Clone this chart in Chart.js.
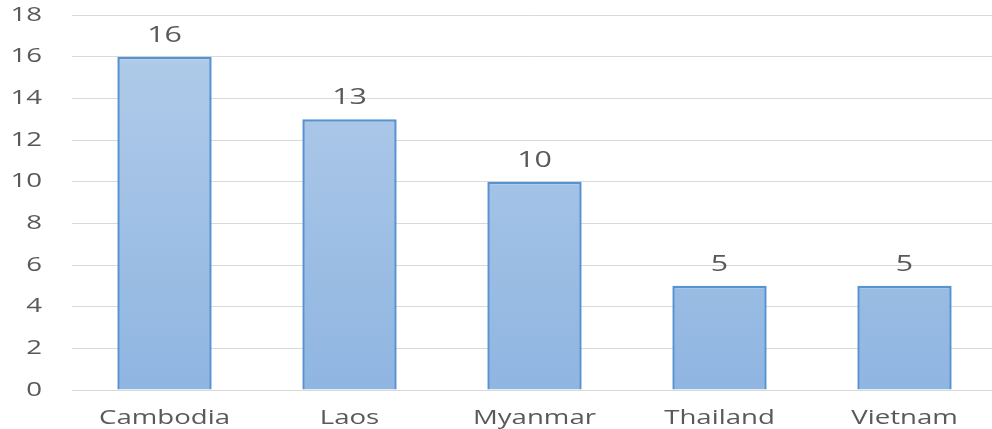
<!DOCTYPE html>
<html>
<head>
<meta charset="utf-8">
<script src="https://cdn.jsdelivr.net/npm/chart.js@4/dist/chart.umd.min.js"></script>
<style>
html,body{margin:0;padding:0;background:#fff;overflow:hidden;}
#wrap{width:997px;height:429px;}
</style>
</head>
<body>
<div id="wrap"><canvas id="c" width="997" height="429"></canvas></div>
<script>
const categories = ["Cambodia", "Laos", "Myanmar", "Thailand", "Vietnam"];
const values = [16, 13, 10, 5, 5];
const yTicks = [0, 2, 4, 6, 8, 10, 12, 14, 16, 18];

const TEXT_STRETCH = 1.38;

const stretchPlugin = {
  id: 'stretchText',
  beforeInit(chart) {
    const c = chart.ctx;
    const orig = c.fillText.bind(c);
    c.fillText = function (text, x, y, maxWidth) {
      c.save();
      c.translate(x, y);
      c.scale(TEXT_STRETCH, 1);
      orig(text, 0, 0);
      c.restore();
    };
  }
};

const labelPlugin = {
  id: 'valueLabels',
  afterDatasetsDraw(chart) {
    const ctx = chart.ctx;
    const meta = chart.getDatasetMeta(0);
    ctx.save();
    ctx.font = '22px "Open Sans"';
    ctx.fillStyle = '#595959';
    ctx.textAlign = 'center';
    ctx.textBaseline = 'alphabetic';
    meta.data.forEach((bar, i) => {
      ctx.fillText(String(chart.data.datasets[0].data[i]), bar.x, bar.y - 15);
    });
    ctx.restore();
  }
};

const ctx = document.getElementById('c').getContext('2d');
new Chart(ctx, {
  type: 'bar',
  data: {
    labels: categories,
    datasets: [{
      data: values,
      backgroundColor: (context) => {
        const chart = context.chart;
        const area = chart.chartArea;
        if (!area) return '#a3c1e6';
        const g = chart.ctx.createLinearGradient(0, area.top, 0, area.bottom);
        g.addColorStop(0, '#b3cdea');
        g.addColorStop(1, '#8fb5e1');
        return g;
      },
      borderColor: '#5793d0',
      borderWidth: 2.5,
      categoryPercentage: 1.0,
      barPercentage: 0.51
    }]
  },
  options: {
    responsive: false,
    animation: false,
    layout: { padding: { top: 15, right: 0, left: 0, bottom: 0 } },
    plugins: { legend: { display: false }, tooltip: { enabled: false } },
    scales: {
      x: {
        grid: { display: false, drawTicks: false },
        border: { display: true, color: '#d9d9d9', width: 1 },
        ticks: { color: '#595959', font: { family: 'Open Sans', size: 20 }, padding: 16, maxRotation: 0 },
        afterFit: (s) => { s.height = 39; s.paddingLeft = 0; s.paddingRight = 0; }
      },
      y: {
        min: 0, max: 18,
        afterBuildTicks: (s) => { s.ticks = yTicks.map(v => ({ value: v })); },
        grid: { color: '#d9d9d9', drawTicks: false, lineWidth: 1 },
        border: { display: false },
        ticks: { color: '#595959', font: { family: 'Open Sans', size: 20 }, padding: 30 },
        afterFit: (s) => { s.width = 72; s.paddingTop = 0; s.paddingBottom = 0; }
      }
    }
  },
  plugins: [stretchPlugin, labelPlugin]
});
</script>
</body>
</html>
